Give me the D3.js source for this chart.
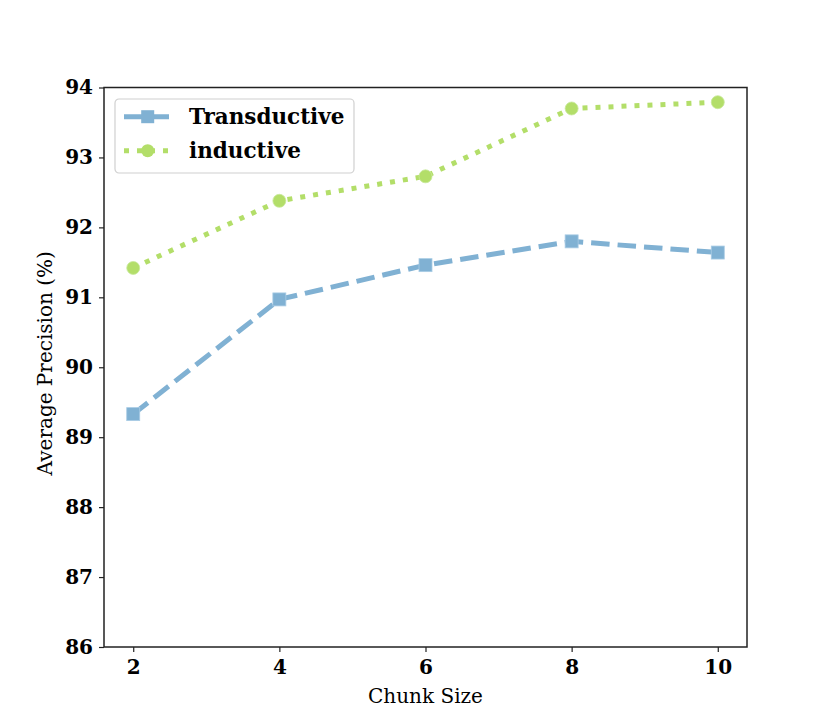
<!DOCTYPE html>
<html>
<head>
<meta charset="utf-8">
<script src="https://cdn.jsdelivr.net/npm/d3@7"></script>
<style>
  body { margin: 0; background: #fff; }
  svg text { font-family: "DejaVu Serif", serif; fill: #000; }
</style>
</head>
<body>
<svg id="chart"></svg>
<script>
const chunkSizes = [2, 4, 6, 8, 10];
const transductive = [89.33, 90.97, 91.46, 91.80, 91.64];
const inductive = [91.42, 92.38, 92.73, 93.70, 93.79];
const yTicks = [86, 87, 88, 89, 90, 91, 92, 93, 94];
const seriesNames = ["Transductive", "inductive"];

const W = 830, H = 727;
const margin = { top: 87.5, right: 83, bottom: 80, left: 104 };
const width = W - margin.left - margin.right,
    height = H - margin.top - margin.bottom;

const svg = d3.select("#chart")
    .attr("width", W)
    .attr("height", H);

const g = svg.append("g")
    .attr("transform", `translate(${margin.left},${margin.top})`);

const x = d3.scaleLinear()
    .domain([1.6, 10.4])
    .range([0, width]);

const y = d3.scaleLinear()
    .domain([86, 94])
    .range([height, 0]);

const colors = { Transductive: "#80b1d3", inductive: "#b3de69" };

// axes
const xAxis = g.append("g")
    .attr("transform", `translate(0,${height})`)
    .call(d3.axisBottom(x).tickValues(chunkSizes).tickSize(5).tickPadding(8).tickFormat(d3.format("d")));
xAxis.selectAll("text")
    .attr("font-size", 20)
    .attr("font-weight", "bold");

const yAxis = g.append("g")
    .call(d3.axisLeft(y).tickValues(yTicks).tickSize(5).tickPadding(6).tickFormat(d3.format("d")));
yAxis.selectAll("text")
    .attr("font-size", 20)
    .attr("font-weight", "bold");

[xAxis, yAxis].forEach(a => {
    a.select(".domain").remove();
    a.selectAll("line").attr("stroke", "#222").attr("stroke-width", 1.2);
});

// frame
g.append("rect")
    .attr("width", width)
    .attr("height", height)
    .attr("fill", "none")
    .attr("stroke", "#222")
    .attr("stroke-width", 1.5);

// axis labels
g.append("text")
    .attr("x", width / 2)
    .attr("y", height + 56)
    .attr("text-anchor", "middle")
    .attr("font-size", 20)
    .text("Chunk Size");

g.append("text")
    .attr("transform", `translate(${-52},${height / 2 - 4}) rotate(-90)`)
    .attr("text-anchor", "middle")
    .attr("font-size", 20)
    .text("Average Precision (%)");

const line = d3.line()
    .x(d => x(d.x))
    .y(d => y(d.y));

const series = [
    { name: "Transductive", values: transductive, dash: "18.5,8", marker: "square" },
    { name: "inductive", values: inductive, dash: "5,8", marker: "circle" }
];

series.forEach(s => {
    const pts = chunkSizes.map((c, i) => ({ x: c, y: s.values[i] }));
    g.append("path")
        .datum(pts)
        .attr("fill", "none")
        .attr("stroke", colors[s.name])
        .attr("stroke-width", 5)
        .attr("stroke-dasharray", s.dash)
        .attr("d", line);

    if (s.marker === "square") {
        g.selectAll(".sq")
            .data(pts)
            .enter()
            .append("rect")
            .attr("x", d => x(d.x) - 6.5)
            .attr("y", d => y(d.y) - 6.5)
            .attr("width", 13)
            .attr("height", 13)
            .attr("fill", colors[s.name])
            .attr("stroke", "#a9cce5")
            .attr("stroke-width", 0.8);
    } else {
        g.selectAll(".ci")
            .data(pts)
            .enter()
            .append("circle")
            .attr("cx", d => x(d.x))
            .attr("cy", d => y(d.y))
            .attr("r", 6.5)
            .attr("fill", colors[s.name])
            .attr("stroke", "#c8e99a")
            .attr("stroke-width", 0.8);
    }
});

// legend
const legend = svg.append("g")
    .attr("transform", "translate(115,99)");

legend.append("rect")
    .attr("width", 239)
    .attr("height", 74)
    .attr("rx", 4)
    .attr("fill", "#fff")
    .attr("fill-opacity", 0.8)
    .attr("stroke", "#d0d0d0")
    .attr("stroke-width", 1.2);

series.forEach((s, i) => {
    const ly = 17.7 + i * 34;
    legend.append("line")
        .attr("x1", 9)
        .attr("x2", 56)
        .attr("y1", ly)
        .attr("y2", ly)
        .attr("stroke", colors[s.name])
        .attr("stroke-width", 5)
        .attr("stroke-dasharray", s.dash);
    if (s.marker === "square") {
        legend.append("rect")
            .attr("x", 32.7 - 6.5)
            .attr("y", ly - 6.5)
            .attr("width", 13)
            .attr("height", 13)
            .attr("fill", colors[s.name]);
    } else {
        legend.append("circle")
            .attr("cx", 32.7)
            .attr("cy", ly)
            .attr("r", 6.5)
            .attr("fill", colors[s.name]);
    }
    legend.append("text")
        .attr("x", 74)
        .attr("y", ly)
        .attr("dy", "0.35em")
        .attr("font-size", 21.5)
        .attr("font-weight", "bold")
        .text(s.name);
});
</script>
</body>
</html>
